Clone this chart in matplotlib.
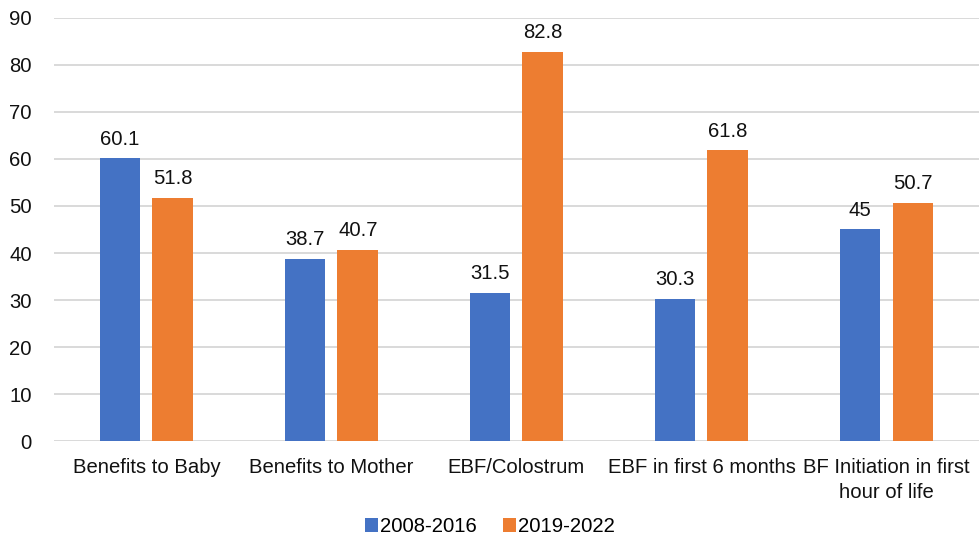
import matplotlib
matplotlib.use('Agg')
import matplotlib.pyplot as plt
import numpy as np

categories = ['Benefits to Baby', 'Benefits to Mother', 'EBF/Colostrum',
              'EBF in first 6 months', 'BF Initiation in first\nhour of life']
series_names = ['2008-2016', '2019-2022']
values_early = [60.1, 38.7, 31.5, 30.3, 45]
values_late = [51.8, 40.7, 82.8, 61.8, 50.7]
yticks = [0, 10, 20, 30, 40, 50, 60, 70, 80, 90]

plt.rcParams['font.family'] = ['Liberation Sans', 'DejaVu Sans']
fs = 14.6

fig = plt.figure(figsize=(9.8, 5.4), dpi=100)
ax = fig.add_axes([0.055, 0.183, 0.944, 0.784])

x = np.arange(len(categories))
w = 0.22
gap = 0.065
off = (w + gap) / 2
colors = ['#4472C4', '#ED7D31']

bars1 = ax.bar(x - off, values_early, w, color=colors[0], label=series_names[0], zorder=3)
bars2 = ax.bar(x + off, values_late, w, color=colors[1], label=series_names[1], zorder=3)

for bars in (bars1, bars2):
    for b in bars:
        v = b.get_height()
        ax.annotate(f'{v:g}', (b.get_x() + b.get_width() / 2, v),
                    xytext=(0, 7), textcoords='offset points',
                    ha='center', va='bottom', fontsize=fs, color='#111111')

ax.set_xlim(-0.5, len(categories) - 0.5)
ax.set_ylim(0, 90)
ax.set_yticks(yticks)
ax.set_xticks(x)
ax.set_xticklabels(categories, fontsize=fs, linespacing=1.4, color='#111111')
ax.tick_params(axis='y', labelsize=fs, length=0, pad=16, labelcolor='#111111')
ax.tick_params(axis='x', length=0, pad=12)
ax.grid(axis='y', color='#d9d9d9', linewidth=1.4, zorder=0)
for s in ax.spines.values():
    s.set_visible(False)

fig.legend(handles=[bars1, bars2], labels=series_names, loc='center',
           bbox_to_anchor=(0.5, 0.025), ncol=2, frameon=False, fontsize=fs,
           handlelength=0.65, handleheight=0.65, handletextpad=0.1, columnspacing=1.3)

fig.savefig('out.png', dpi=100)
